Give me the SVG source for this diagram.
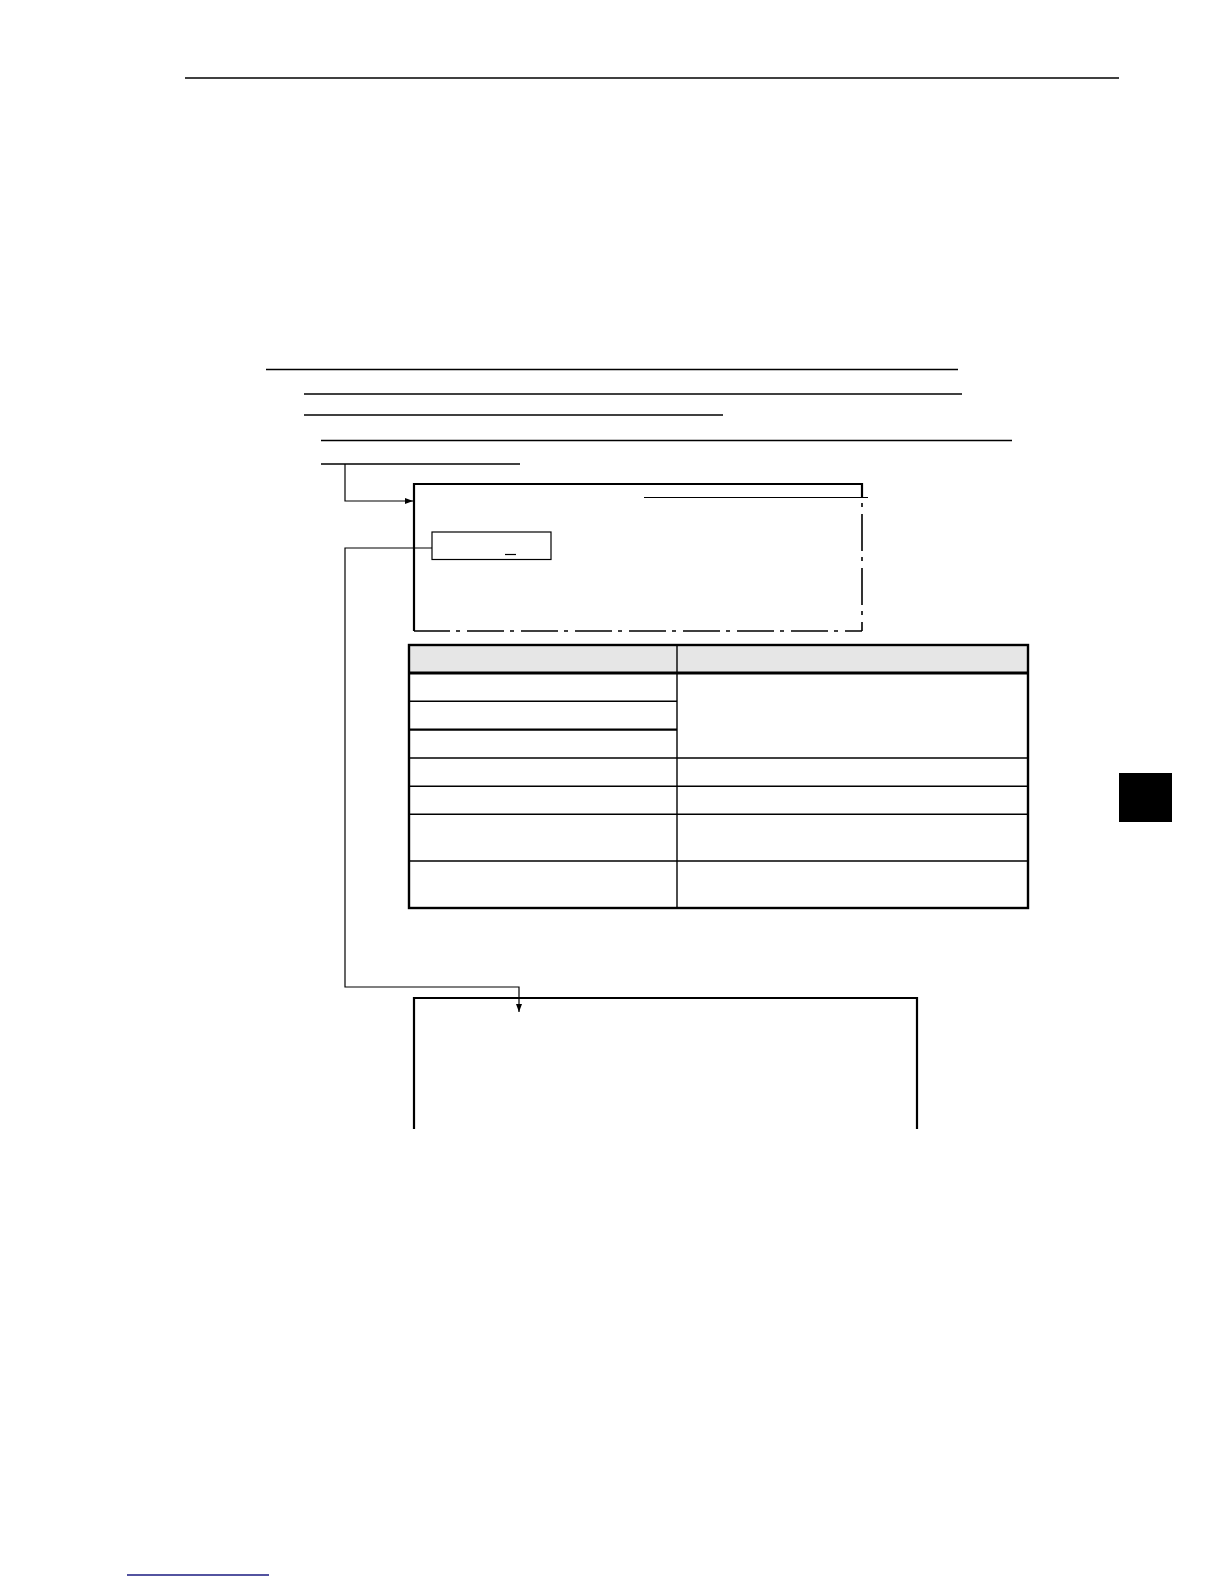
<svg xmlns="http://www.w3.org/2000/svg" width="1224" height="1584" viewBox="0 0 1224 1584">
<style>
.rule{stroke:#000;stroke-width:1.4;fill:none}
.thin{stroke:#000;stroke-width:1.2;fill:none}
.thick{stroke:#000;stroke-width:2.2;fill:none}
.dd{stroke:#000;stroke-width:1.6;fill:none;stroke-dasharray:37 6 4 7}
.cell{stroke:#000;stroke-width:1.4;fill:none}
</style>
<defs>
<marker id="arr" markerWidth="8" markerHeight="6" refX="8" refY="3" orient="auto" markerUnits="userSpaceOnUse">
<path d="M0,0 L8,3 L0,6 Z" fill="#000"/>
</marker>
</defs>
<rect width="1224" height="1584" fill="#fff"/>
<g id="header">
<line class="rule" x1="185" y1="78" x2="1119" y2="78"/>
</g>
<g id="text-lines">
<line class="rule" x1="266" y1="369.5" x2="958" y2="369.5"/>
<line class="rule" x1="304" y1="394" x2="962" y2="394"/>
<line class="rule" x1="304" y1="415" x2="723" y2="415"/>
<line class="rule" x1="321" y1="440.5" x2="1012" y2="440.5"/>
<line class="rule" x1="321" y1="464" x2="520" y2="464"/>
</g>
<g id="screen-box">
<polyline class="thick" points="414,631 414,484 862,484 862,498"/>
<line class="dd" x1="862" y1="498" x2="862" y2="631" stroke-dashoffset="38"/>
<line class="dd" x1="414" y1="631" x2="862" y2="631" stroke-dashoffset="1"/>
<line class="thin" x1="644" y1="497.5" x2="868" y2="497.5"/>
</g>
<g id="input-box">
<rect class="thin" x="432" y="532" width="119" height="27.5"/>
<line class="thin" x1="505" y1="554.5" x2="516" y2="554.5"/>
</g>
<g id="table">
<rect x="409" y="645" width="619" height="28" fill="#e6e6e6"/>
<line class="cell" x1="409" y1="701.3" x2="677" y2="701.3"/>
<line class="thick" x1="409" y1="729.7" x2="677" y2="729.7"/>
<line class="cell" x1="409" y1="758" x2="1028" y2="758"/>
<line class="cell" x1="409" y1="786.3" x2="1028" y2="786.3"/>
<line class="cell" x1="409" y1="814.3" x2="1028" y2="814.3"/>
<line class="cell" x1="409" y1="861" x2="1028" y2="861"/>
<line class="cell" x1="677" y1="645" x2="677" y2="908"/>
<line stroke="#000" stroke-width="3" x1="409" y1="673" x2="1028" y2="673"/>
<rect x="409" y="645" width="619" height="263" fill="none" stroke="#000" stroke-width="2.4"/>
</g>
<g id="result-box">
<polyline class="thick" points="414,1129 414,998 917,998 917,1129"/>
</g>
<g id="tab-marker">
<rect x="1119" y="773" width="53" height="49" fill="#000"/>
</g>
<g id="footer">
<line x1="127" y1="1575" x2="269" y2="1575" stroke="#1a1a80" stroke-width="1.3"/>
</g>
<g id="connectors">
<polyline class="thin" points="345,464 345,501 413,501" marker-end="url(#arr)"/>
<polyline class="thin" points="432,548 345,548 345,987 519,987 519,1012" marker-end="url(#arr)"/>
</g>
</svg>
